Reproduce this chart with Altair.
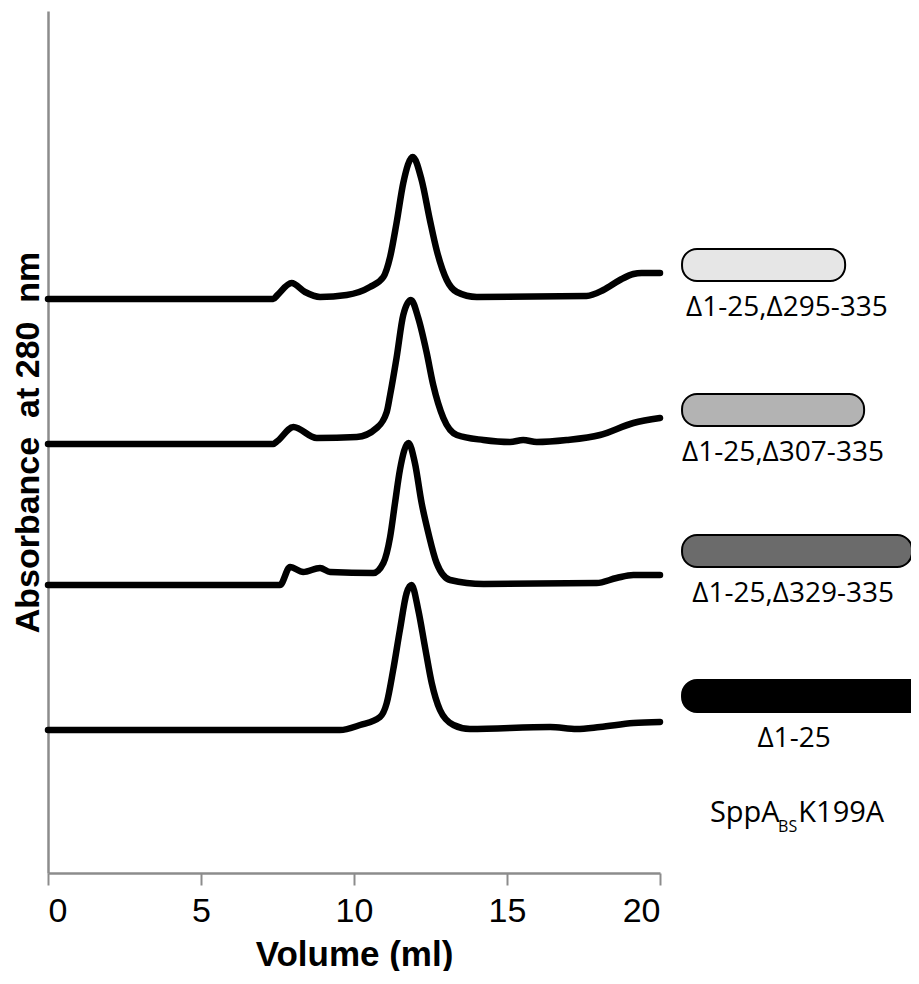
import altair as alt
import pandas as pd

# --- Elution traces (Volume in ml, absorbance above each trace's own baseline) ---
t1_x = [0, 7.36, 7.5, 7.96, 8.4, 8.89, 9.76, 10.52, 10.96, 11.18, 11.39, 11.61, 11.92, 12.21, 12.48, 12.70, 13.03, 13.36, 14.01, 17.60, 18.15, 18.69, 19.13, 19.4, 20.0]
t1_y = [0, 0, 0.04, 0.16, 0.07, 0.02, 0.04, 0.12, 0.22, 0.42, 0.76, 1.16, 1.42, 1.19, 0.79, 0.49, 0.19, 0.07, 0.02, 0.03, 0.09, 0.19, 0.25, 0.26, 0.26]

t2_x = [0, 7.36, 7.5, 8.02, 8.78, 10.09, 10.74, 11.07, 11.18, 11.39, 11.61, 11.86, 12.10, 12.37, 12.59, 12.92, 13.36, 14.23, 15.10, 15.53, 15.97, 16.95, 18.04, 19.13, 20.0]
t2_y = [0, 0, 0.03, 0.17, 0.06, 0.07, 0.16, 0.32, 0.49, 0.86, 1.29, 1.44, 1.26, 0.92, 0.59, 0.26, 0.09, 0.04, 0.02, 0.04, 0.02, 0.04, 0.09, 0.21, 0.26]

t3_x = [0, 7.58, 7.91, 8.34, 8.89, 9.22, 10.63, 10.96, 11.18, 11.34, 11.50, 11.78, 11.99, 12.21, 12.43, 12.70, 13.14, 14.23, 17.93, 18.58, 19.13, 20.0]
t3_y = [0, 0, 0.18, 0.13, 0.17, 0.13, 0.12, 0.22, 0.48, 0.82, 1.15, 1.42, 1.22, 0.82, 0.52, 0.22, 0.05, 0.01, 0.02, 0.07, 0.10, 0.10]

t4_x = [0, 9.54, 10.20, 10.85, 11.07, 11.28, 11.50, 11.72, 11.88, 12.10, 12.32, 12.54, 12.81, 13.25, 13.79, 16.41, 17.28, 18.04, 19.13, 20.0]
t4_y = [0, 0, 0.05, 0.13, 0.27, 0.60, 1.00, 1.37, 1.45, 1.20, 0.83, 0.47, 0.20, 0.05, 0.01, 0.03, 0.01, 0.03, 0.07, 0.08]

construct_labels = ["\u03941-25,\u0394295-335", "\u03941-25,\u0394307-335", "\u03941-25,\u0394329-335", "\u03941-25"]
trace_offsets = [5.74, 4.29, 2.88, 1.43]
construct_colors = ["#e6e6e6", "#b3b3b3", "#6b6b6b", "#000000"]
construct_lengths = [26.05, 26.67, 28.24, 29.3]   # drawn end of each construct bar (x units)

rows = []
for name, xs, ys, off in zip(construct_labels, [t1_x, t2_x, t3_x, t4_x], [t1_y, t2_y, t3_y, t4_y], trace_offsets):
    for xv, yv in zip(xs, ys):
        rows.append({"series": name, "vol": xv, "abs": yv + off})
traces = pd.DataFrame(rows)

bars = pd.DataFrame({
    "label": construct_labels,
    "x0": [20.72] * 4,
    "x1": construct_lengths,
    "y0": [o + 0.18 for o in trace_offsets],
    "y1": [o + 0.50 for o in trace_offsets],
    "fill": construct_colors,
})
labels = pd.DataFrame({
    "label": construct_labels,
    "x": [24.15, 24.02, 24.35, 24.38],
    "y": [o - 0.09 for o in trace_offsets],
})
species_big = pd.DataFrame({"txt": ["SppA", "K199A"], "x": [21.63, 24.52], "y": [0.60, 0.60]})
species_small = pd.DataFrame({"txt": ["BS"], "x": [23.86], "y": [0.46]})

X = alt.X("vol:Q", scale=alt.Scale(domain=[0, 20], nice=False, zero=False),
          axis=alt.Axis(values=[0, 5, 10, 15, 20], title="Volume (ml)"))
Y = alt.Y("abs:Q", scale=alt.Scale(domain=[0, 8.62], nice=False),
          axis=alt.Axis(labels=False, ticks=False, title="Absorbance\u00a0\u00a0at 280\u00a0\u00a0nm"))

lines = alt.Chart(traces).mark_line(color="black", strokeWidth=6.5, interpolate="monotone", strokeCap="round").encode(
    x=X, y=Y, detail="series:N", order=alt.Order("vol:Q"))

rects = alt.Chart(bars).mark_rect(cornerRadius=15, stroke="black", strokeWidth=2, clip=False).encode(
    x=alt.X("x0:Q"), x2="x1:Q", y=alt.Y("y0:Q"), y2="y1:Q",
    fill=alt.Fill("fill:N", scale=None))

texts = alt.Chart(labels).mark_text(font="Open Sans", fontSize=28, color="black", align="center",
                                    baseline="middle", clip=False).encode(
    x="x:Q", y="y:Q", text="label:N")

sp_big = alt.Chart(species_big).mark_text(font="Open Sans", fontSize=29, color="black",
                                          align="left", baseline="middle", clip=False).encode(
    x="x:Q", y="y:Q", text="txt:N")
sp_small = alt.Chart(species_small).mark_text(font="Open Sans", fontSize=16, color="black",
                                              align="left", baseline="middle", clip=False).encode(
    x="x:Q", y="y:Q", text="txt:N")

chart = alt.layer(lines, rects, texts, sp_big, sp_small).properties(
    width=612, height=862,
    autosize=alt.AutoSizeParams(type="none"),
    padding={"left": 40, "top": 3, "right": 251, "bottom": 98},
).configure_view(strokeWidth=0).configure_axisX(
    domainColor="#8c8c8c", domainWidth=2.5, tickColor="#8c8c8c", tickWidth=2, tickSize=12,
    labelFont="Liberation Sans", labelFontSize=34, labelColor="black",
    labelPadding=9, grid=False,
    titleFont="Liberation Sans", titleFontSize=35, titleFontWeight="bold", titleColor="black", titlePadding=9,
).configure_axisY(
    domainColor="#8c8c8c", domainWidth=2.5, grid=False,
    titleFont="Liberation Sans", titleFontSize=34, titleFontWeight="bold", titleColor="black", titlePadding=3,
)

chart.save("out.html", embed_options={"renderer": "svg", "actions": False})
